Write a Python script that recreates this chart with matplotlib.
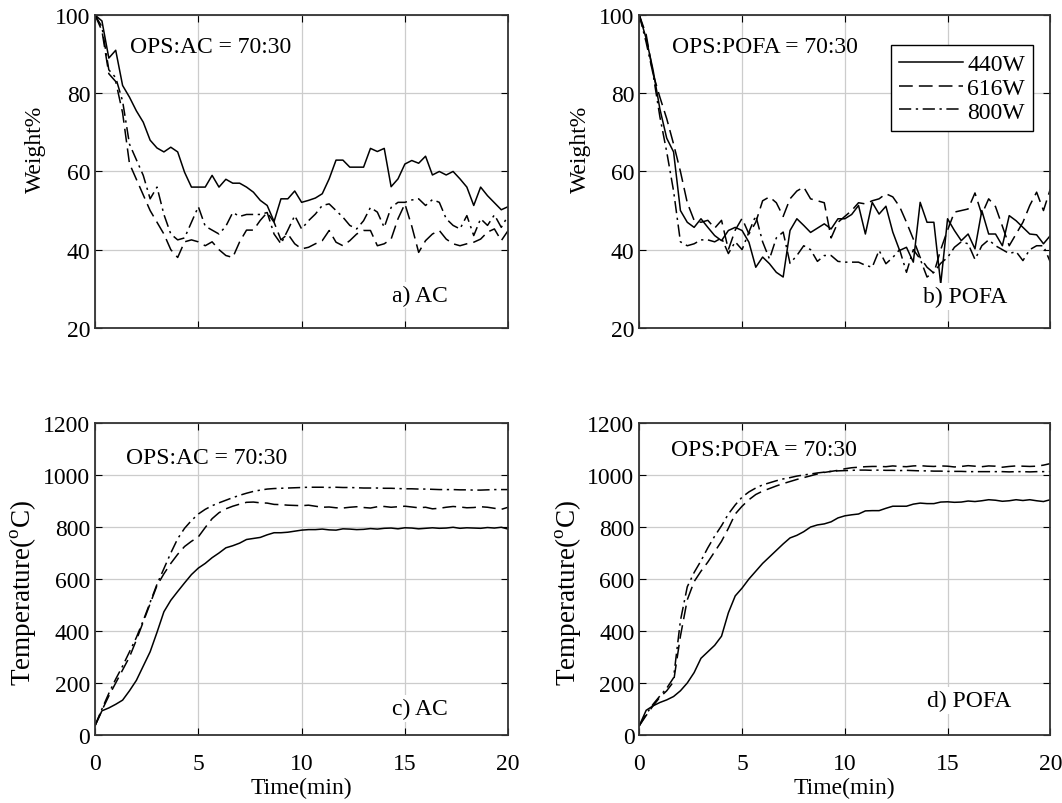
import matplotlib
matplotlib.use('Agg')
import matplotlib.pyplot as plt
import numpy as np

plt.rcParams['font.family'] = ['Liberation Serif', 'DejaVu Serif']
plt.rcParams['mathtext.fontset'] = 'custom'
plt.rcParams['mathtext.rm'] = 'Liberation Serif'

# sampling every 20 s over 20 min
time = np.arange(61) / 3.0

powers = ['440W', '616W', '800W']

# a) weight %, OPS:AC
w_ac_440 = [100, 98.5, 89, 91, 82, 79, 75.5, 72.6, 68, 66, 65, 66.2, 65, 59.8, 56, 56, 56, 59, 56, 58,
            57, 57, 56, 54.7, 52.6, 51.3, 47.2, 53, 53, 55, 52.1, 52.6, 53.2, 54.3, 58.1, 62.9, 62.9, 61.1,
            61.1, 61.1, 65.9, 65.1, 65.9, 56.1, 58.1, 61.9, 62.8, 62.1, 63.9, 59.1, 60, 59.1, 60, 58.1,
            56, 51.3, 56, 53.8, 52, 50.2, 51]
w_ac_616 = [100, 96, 85, 83, 75, 62, 58, 54, 50, 47, 44, 40, 38, 42, 42.5, 42, 41, 42, 40, 38.5,
            38, 42, 45, 45, 47.5, 49.5, 47, 42.5, 44, 41.5, 40.2, 40.6, 41.5, 42.3, 44.9, 41.9, 41, 42.3,
            44, 44.9, 44.9, 41, 41.5, 42.7, 47.9, 51.7, 46, 39.3, 42.3, 44, 44.9, 42.7, 41.5, 41,
            41.5, 41.9, 42.7, 44.5, 45.3, 42.3, 44.9]
w_ac_800 = [100, 97, 86, 84, 78, 67, 63, 59, 53, 56, 49, 44, 42.5, 43, 47, 51, 46, 45, 44, 46,
            49.5, 48.5, 49, 49, 49, 49.5, 44, 41.5, 45, 48.7, 45.3, 47.4, 49.1, 51.3, 51.7, 50, 48.3, 46.2,
            45.3, 47.4, 50.8, 49.6, 45.7, 50.8, 52.1, 52.1, 52.7, 53, 51.3, 52.8, 52.1, 47.9, 46.2, 45.3,
            48.7, 43.6, 47.9, 46.2, 48.9, 45.7, 48.7]

# b) weight %, OPS:POFA
w_pofa_440 = [100, 94, 86, 76, 68.5, 65, 50, 47, 45.7, 47.9, 45.7, 43.6, 42.3, 44.9, 45.7, 44.9, 41.9,
              35.5, 38.1, 36.4, 34.2, 33, 44.9, 47.9, 46.2, 44.4, 45.5, 46.6, 45.3, 47.9, 47.9, 49, 51.3,
              44, 52.1, 49.1, 51.1, 44.5, 39.8, 40.6, 36.8, 52.1, 47, 47, 31.2, 47.9, 44.9, 42.3, 44,
              40.2, 50, 44, 44, 41, 48.7, 47.4, 45.7, 44, 43.8, 41.5, 43.6]
w_pofa_616 = [100, 95, 85, 79, 73.5, 67, 60, 52, 47.5, 47, 47.5, 45.5, 47.5, 40, 45, 48, 44, 47, 52.5,
              53.5, 52, 48.5, 53, 55, 56, 53, 52.5, 52, 43, 47, 48.5, 50, 52, 51.7, 52.5, 53, 54.3, 53.5,
              51, 47, 42.7, 38, 35.5, 34, 40, 45, 49.6, 50, 50.4, 54.5, 49, 53, 51, 46, 41, 44, 47,
              51.3, 54.7, 50, 55.5]
w_pofa_800 = [100, 93, 85, 74, 65, 55, 42, 41, 41.5, 42.5, 42.5, 42, 43, 39, 42, 40, 44.5, 48.7, 42,
              37.6, 43, 44.5, 36.5, 38.5, 41, 40, 37, 38.5, 38.5, 37, 36.8, 36.8, 36.8, 36, 35.5, 39.8,
              36.4, 38, 40, 34.2, 40, 37.6, 33, 34.2, 36.5, 38, 40.6, 42, 41.5, 37.5, 41, 42.5, 41, 40,
              39, 39.5, 37.2, 40, 41, 41, 36.8]

# c) temperature, OPS:AC
t_ac_440 = [36, 93, 104, 118, 134, 170, 210, 265, 320, 395, 474, 518, 552, 585, 617, 642, 660, 682, 700,
            720, 728, 738, 752, 756, 760, 770, 778, 778, 780, 784, 788, 790, 790, 792, 789, 788, 793, 792,
            790, 791, 794, 792, 795, 796, 793, 797, 796, 793, 795, 797, 795, 796, 799, 795, 797, 796,
            795, 798, 796, 799, 792]
t_ac_616 = [36, 95, 150, 200, 250, 300, 365, 435, 505, 575, 620, 660, 695, 725, 745, 762, 798, 832, 855,
            870, 880, 888, 895, 896, 893, 892, 887, 886, 884, 883, 882, 884, 880, 876, 877, 874, 873, 876,
            878, 875, 873, 878, 879, 876, 878, 880, 877, 874, 876, 870, 872, 876, 879, 877, 874, 875,
            878, 876, 872, 868, 876]
t_ac_800 = [36, 100, 160, 215, 265, 320, 375, 440, 510, 580, 640, 700, 755, 795, 825, 850, 868, 882, 893,
            903, 913, 922, 930, 937, 942, 946, 948, 949, 950, 951, 952, 953, 953, 953, 952, 953, 952, 952,
            951, 950, 950, 950, 949, 949, 948, 947, 947, 946, 946, 945, 944, 944, 944, 943, 943, 942,
            942, 943, 944, 944, 944]

# d) temperature, OPS:POFA
t_pofa_440 = [36, 95, 112, 125, 135, 148, 170, 200, 240, 295, 320, 345, 380, 470, 535, 565, 600, 630, 660,
              685, 710, 735, 758, 768, 782, 800, 808, 812, 820, 835, 843, 847, 850, 862, 863, 863, 872,
              880, 880, 880, 888, 892, 890, 890, 896, 897, 895, 896, 900, 898, 901, 905, 903, 899, 901,
              905, 902, 905, 901, 898, 905]
t_pofa_616 = [36, 75, 112, 145, 170, 205, 380, 520, 590, 630, 665, 705, 745, 795, 850, 880, 905, 925, 938,
              948, 958, 967, 975, 983, 990, 997, 1004, 1010, 1014, 1018, 1024, 1028, 1030, 1032, 1033,
              1033, 1032, 1035, 1033, 1032, 1035, 1036, 1034, 1033, 1035, 1034, 1031, 1033, 1036, 1034,
              1032, 1035, 1034, 1030, 1033, 1035, 1034, 1033, 1034, 1038, 1044]
t_pofa_800 = [36, 80, 118, 150, 180, 220, 440, 570, 625, 670, 720, 765, 805, 850, 885, 915, 935, 950, 962,
              970, 978, 985, 990, 996, 1000, 1004, 1008, 1011, 1014, 1016, 1017, 1018, 1019, 1019, 1018,
              1019, 1018, 1018, 1017, 1018, 1017, 1016, 1016, 1015, 1015, 1014, 1014, 1014, 1013, 1013,
              1013, 1013, 1013, 1013, 1012, 1013, 1013, 1012, 1013, 1013, 1013]

styles = [dict(linestyle='-'),
          dict(linestyle=(0, (9, 4))),
          dict(linestyle=(0, (8, 3, 1.5, 3)))]

W, H = 1062, 804
fig = plt.figure(figsize=(W / 100, H / 100), dpi=100)
ax_a = fig.add_axes([0.0895, 0.591, 0.389, 0.389])
ax_b = fig.add_axes([0.602, 0.591, 0.387, 0.389])
ax_c = fig.add_axes([0.0895, 0.0846, 0.389, 0.388])
ax_d = fig.add_axes([0.602, 0.0846, 0.387, 0.388])

panels = [
    (ax_a, [w_ac_440, w_ac_616, w_ac_800], 'OPS:AC = 70:30', 'a) AC', (0.085, 0.90), (0.72, 0.105)),
    (ax_b, [w_pofa_440, w_pofa_616, w_pofa_800], 'OPS:POFA = 70:30', 'b) POFA', (0.08, 0.90), (0.69, 0.10)),
    (ax_c, [t_ac_440, t_ac_616, t_ac_800], 'OPS:AC = 70:30', 'c) AC', (0.075, 0.89), (0.72, 0.085)),
    (ax_d, [t_pofa_440, t_pofa_616, t_pofa_800], 'OPS:POFA = 70:30', 'd) POFA', (0.078, 0.915), (0.70, 0.11)),
]

fs = 17
for ax, series, title, tag, tpos, gpos in panels:
    for y, p, st in zip(series, powers, styles):
        ax.plot(time, y, color='black', linewidth=1.1, label=p, **st)
    ax.set_xlim(0, 20)
    ax.set_xticks([0, 5, 10, 15, 20])
    ax.grid(True, color='#cccccc', linewidth=0.9)
    ax.tick_params(direction='in', top=True, right=True, length=5, labelsize=fs, colors='black')
    ax.tick_params(axis='x', pad=13)
    for s in ax.spines.values():
        s.set_linewidth(1.3)
        s.set_color('#333333')
    ax.text(tpos[0], tpos[1], title, transform=ax.transAxes, fontsize=fs, va='center', ha='left')
    ax.text(gpos[0], gpos[1], tag, transform=ax.transAxes, fontsize=fs, va='center', ha='left',
            bbox=dict(facecolor='white', edgecolor='none', pad=2))

for ax in (ax_a, ax_b):
    ax.set_ylim(20, 100)
    ax.set_yticks([20, 40, 60, 80, 100])
    ax.set_xticklabels([])

for ax in (ax_c, ax_d):
    ax.set_ylim(0, 1200)
    ax.set_yticks(np.arange(0, 1201, 200))
    ax.set_xlabel('Time(min)', fontsize=fs, labelpad=2)

# y labels placed where they sit in the original figure
for x in (35, 580):
    fig.text(x / W, 1 - 149 / H, 'Weight%', rotation=90, ha='center', va='center', fontsize=fs)
for x in (23, 568):
    fig.text(x / W, 1 - 593 / H, 'Temperature($^{\\mathrm{o}}$C)', rotation=90, ha='center', va='center',
             fontsize=19.5)

leg = ax_b.legend(loc='upper right', bbox_to_anchor=(0.9586, 0.904), fontsize=fs, handlelength=2.7,
                  labelspacing=0.1, borderpad=0.35, handletextpad=0.2, borderaxespad=0,
                  fancybox=False, framealpha=1)
leg.get_frame().set_edgecolor('black')
leg.get_frame().set_linewidth(1.0)

fig.savefig('out.png', dpi=100)
